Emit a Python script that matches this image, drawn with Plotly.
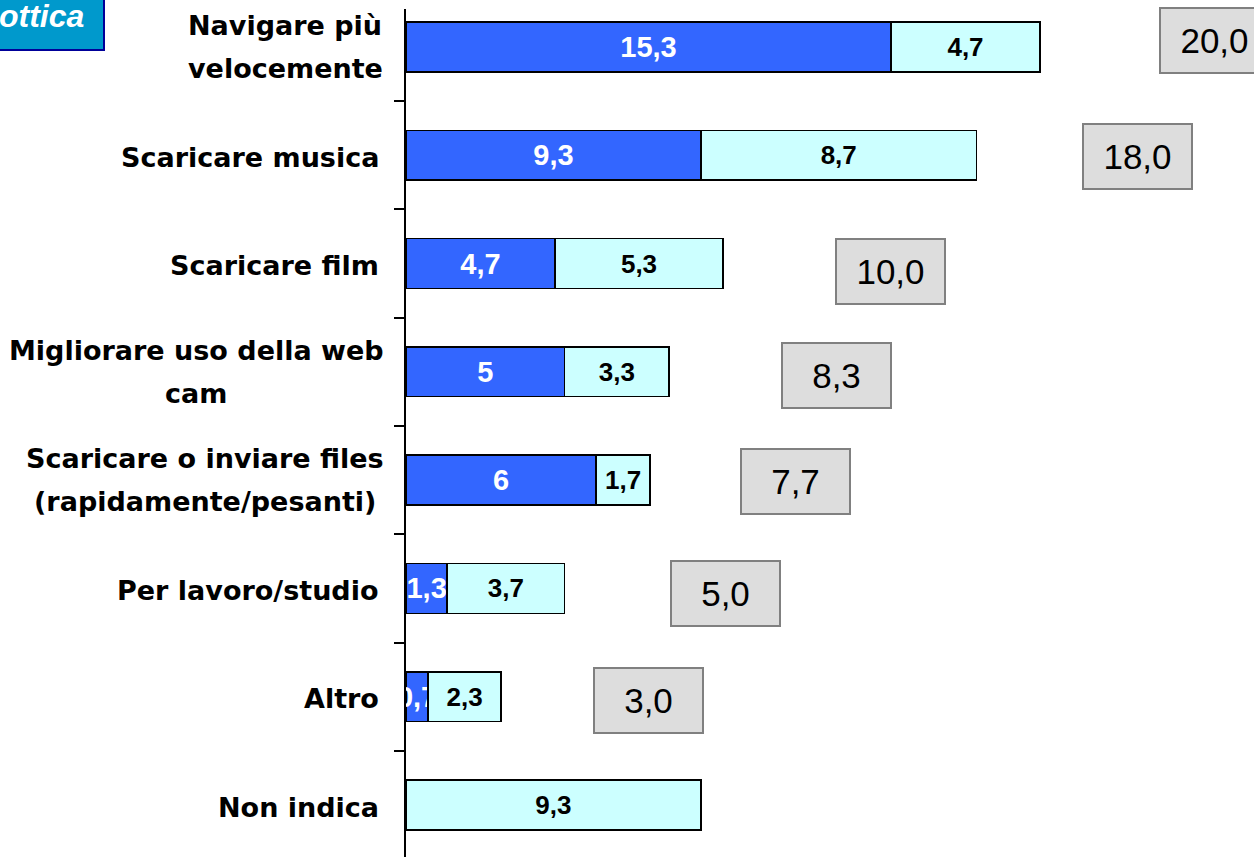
import plotly.graph_objects as go

categories = [
    "Navigare più velocemente",
    "Scaricare musica",
    "Scaricare film",
    "Migliorare uso della web cam",
    "Scaricare o inviare files (rapidamente/pesanti)",
    "Per lavoro/studio",
    "Altro",
    "Non indica",
]
label_lines = [
    ["Navigare più", "velocemente"],
    ["Scaricare musica"],
    ["Scaricare film"],
    ["Migliorare uso della web", "cam"],
    ["Scaricare o inviare files", "(rapidamente/pesanti)"],
    ["Per lavoro/studio"],
    ["Altro"],
    ["Non indica"],
]
series_dark = [15.3, 9.3, 4.7, 5, 6, 1.3, 0.7, None]
series_light = [4.7, 8.7, 5.3, 3.3, 1.7, 3.7, 2.3, 9.3]
totals = [20.0, 18.0, 10.0, 8.3, 7.7, 5.0, 3.0, None]

# layout: pixel placement of the total boxes relative to each bar's end / centre
total_box_dx = [174, 161, 167, 167, 145, 161, 147, 0]
total_box_dy = [6, -1, -8, -4, -1, -5, -4, 0]


def fmt(v):
    return "" if v is None else f"{v:g}".replace(".", ",")


W, H = 1254, 857
ML, MT = 406, 9
PW, PH = W - ML, H - MT

fig = go.Figure()
fig.add_trace(go.Bar(
    y=categories, x=series_dark, orientation="h",
    marker=dict(color="#3366FF", line=dict(color="black", width=1.5)),
    text=[fmt(v) for v in series_dark], textposition="inside",
    insidetextanchor="middle", textangle=0, constraintext="none",
    textfont=dict(family="Liberation Sans", size=29, color="white", weight="bold"),
    width=0.46, showlegend=False, hoverinfo="skip",
))
fig.add_trace(go.Bar(
    y=categories, x=series_light, orientation="h",
    marker=dict(color="#CCFFFF", line=dict(color="black", width=1.5)),
    text=[fmt(v) for v in series_light], textposition="inside",
    insidetextanchor="middle", textangle=0, constraintext="none",
    textfont=dict(family="Liberation Sans", size=26, color="black", weight="bold"),
    width=0.46, showlegend=False, hoverinfo="skip",
))

annotations = []
label_font = dict(family="DejaVu Sans", size=27, color="black", weight="bold")
two_line_centers = {0: 285, 3: 196, 4: 205}
for i, lines in enumerate(label_lines):
    if len(lines) == 1:
        annotations.append(dict(
            xref="paper", x=0, xshift=-25, xanchor="right",
            yref="y", y=i, yshift=-2, yanchor="middle",
            text=lines[0], showarrow=False, font=label_font,
        ))
    else:
        cx = two_line_centers[i] - ML
        for j, ln in enumerate(lines):
            annotations.append(dict(
                xref="paper", x=0, xshift=cx, xanchor="center",
                yref="y", y=i, yshift=21.5 if j == 0 else -21.5, yanchor="middle",
                text=ln, showarrow=False, font=label_font,
            ))

for i, t in enumerate(totals):
    if t is None:
        continue
    annotations.append(dict(
        xref="x", x=t, xshift=total_box_dx[i], xanchor="center",
        yref="y", y=i, yshift=total_box_dy[i], yanchor="middle",
        text=f"{t:.1f}".replace(".", ","), showarrow=False,
        font=dict(family="Liberation Sans", size=35, color="black"),
        bgcolor="#DDDDDD", bordercolor="#808080", borderwidth=2, borderpad=0,
        width=107, height=63,
    ))

# corner tag (cut off at the left edge, as in the original)
annotations.append(dict(
    xref="paper", x=(86 - ML) / PW, xanchor="right",
    yref="paper", y=(H - 16) / PH, yanchor="middle",
    text="ottica", showarrow=False,
    font=dict(family="Liberation Sans", size=32, color="white", weight="bold", style="italic"),
))

shapes = [dict(
    type="rect", xref="paper", yref="paper",
    x0=(-10 - ML) / PW, x1=(104 - ML) / PW,
    y0=(H - 50) / PH, y1=(H + 10) / PH,
    fillcolor="#0099CC", line=dict(color="#000099", width=2), layer="below",
)]

fig.update_layout(
    width=W, height=H, autosize=False,
    margin=dict(l=ML, r=0, t=MT, b=0, pad=0),
    paper_bgcolor="white", plot_bgcolor="white",
    barmode="stack", bargap=0.54,
    annotations=annotations, shapes=shapes,
    xaxis=dict(range=[0, PW / 31.7], visible=False, fixedrange=True),
    yaxis=dict(
        type="category", categoryorder="array", categoryarray=categories,
        range=[7.48, -0.35], showticklabels=False,
        showline=True, linecolor="black", linewidth=2,
        ticks="outside", tickson="boundaries", ticklen=10, tickwidth=2, tickcolor="black",
        showgrid=False, zeroline=False, fixedrange=True,
    ),
)

fig.write_html(
    "out.html",
    config={"displayModeBar": False},
    post_script="document.body.style.margin='0';document.body.style.overflow='hidden';",
)
